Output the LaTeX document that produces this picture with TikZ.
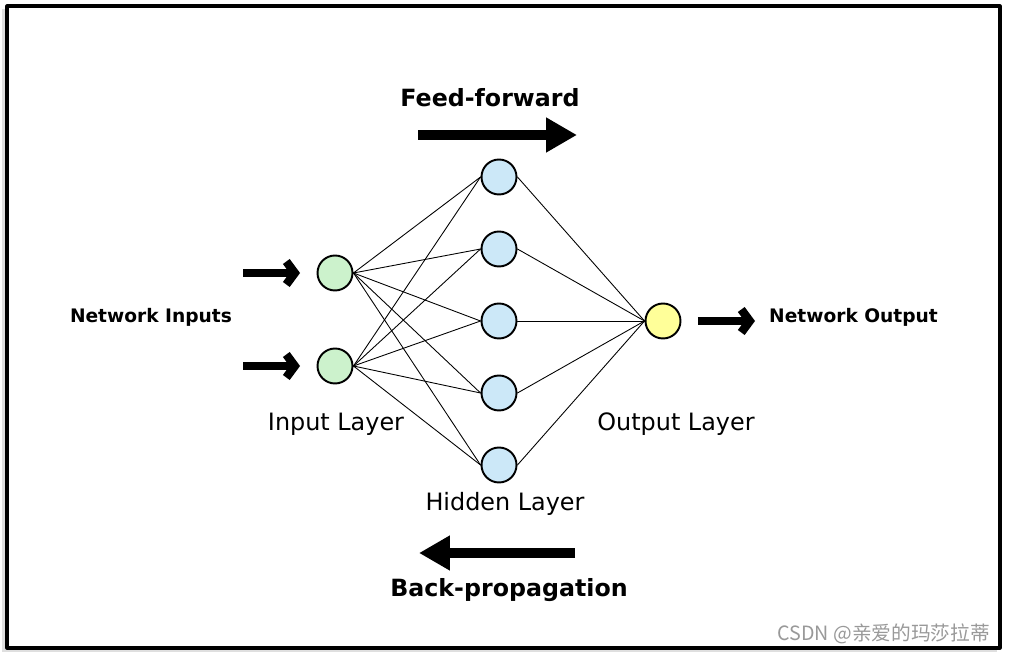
\documentclass[tikz,border=0pt]{standalone}
\usepackage{fontspec}
\setmainfont{DejaVu Sans}
\newfontfamily\cjk{Noto Sans CJK SC}
\usetikzlibrary{arrows.meta,positioning}

\definecolor{ingreen}{RGB}{204,242,204}
\definecolor{hidblue}{RGB}{204,232,248}
\definecolor{outyellow}{RGB}{255,255,153}

\begin{document}
\begin{tikzpicture}[x=0.02cm,y=-0.02cm,line cap=round,line join=round,
  neuron/.style={circle,draw,line width=1.1pt,minimum size=0.7cm,inner sep=0pt},
  link/.style={line width=0.5pt},
  inarrow/.style={line width=4.8pt,line cap=butt,-{Straight Barb[length=0.17cm,width=0.46cm]}},
  flowarrow/.style={line width=5.6pt,line cap=butt,-{Triangle[length=0.62cm,width=0.66cm]}},
  biglabel/.style={font=\bfseries\fontsize{13.5}{16}\selectfont},
  sidelabel/.style={font=\bfseries\fontsize{10.6}{13}\selectfont},
  layerlabel/.style={font=\fontsize{13.6}{16}\selectfont}]
\useasboundingbox (0,0) rectangle (1009,655);
% frame
\fill[gray!25] (2,9) rectangle (997,652);
\draw[line width=1.8pt,fill=white] (7,6) rectangle (1000,648);

% neurons
\node[neuron,fill=ingreen] (i1) at (335,273) {};
\node[neuron,fill=ingreen] (i2) at (335,366) {};
\node[neuron,fill=hidblue] (h1) at (499,177) {};
\node[neuron,fill=hidblue] (h2) at (499,249) {};
\node[neuron,fill=hidblue] (h3) at (499,321) {};
\node[neuron,fill=hidblue] (h4) at (499,393) {};
\node[neuron,fill=hidblue] (h5) at (499,465) {};
\node[neuron,fill=outyellow] (o) at (663,321) {};

% connections
\foreach \i in {i1,i2}
  \foreach \h in {h1,h2,h3,h4,h5}
    \draw[link] (\i.east) -- (\h.west);
\foreach \h in {h1,h2,h3,h4,h5}
  \draw[link] (\h.east) -- (o.west);

% input and output arrows
\coordinate (in1) at (243,273);
\coordinate (in2) at (243,366);
\coordinate (out) at (755,321);
\draw[inarrow] (in1) -- ([xshift=-0.33cm]i1.west);
\draw[inarrow] (in2) -- ([xshift=-0.33cm]i2.west);
\draw[inarrow] ([xshift=0.33cm]o.east) -- (out);

% feed-forward / back-propagation
\coordinate (ffa) at (418,135);
\coordinate (ffb) at (577,135);
\coordinate (bpa) at (575,553);
\coordinate (bpb) at (419,553);
\draw[flowarrow] (ffa) -- (ffb);
\draw[flowarrow] (bpa) -- (bpb);

% labels
\node[biglabel] (ff) at (490,98) {Feed-forward};
\node[biglabel] (bp) at (509,590) {Back-propagation};
\node[sidelabel] (netin) at (151,317) {Network Inputs};
\node[sidelabel,anchor=west] (netout) at (763,317) {Network Output};
\node[layerlabel] (inl) at (336,424) {Input Layer};
\node[layerlabel] (hidl) at (505,504) {Hidden Layer};
\node[layerlabel] (outl) at (676,424) {Output Layer};
\node[anchor=east,text=gray!80,font=\cjk\fontsize{11.2}{13}\selectfont] (mark) at (996,634) {CSDN @亲爱的玛莎拉蒂};
\end{tikzpicture}
\end{document}
